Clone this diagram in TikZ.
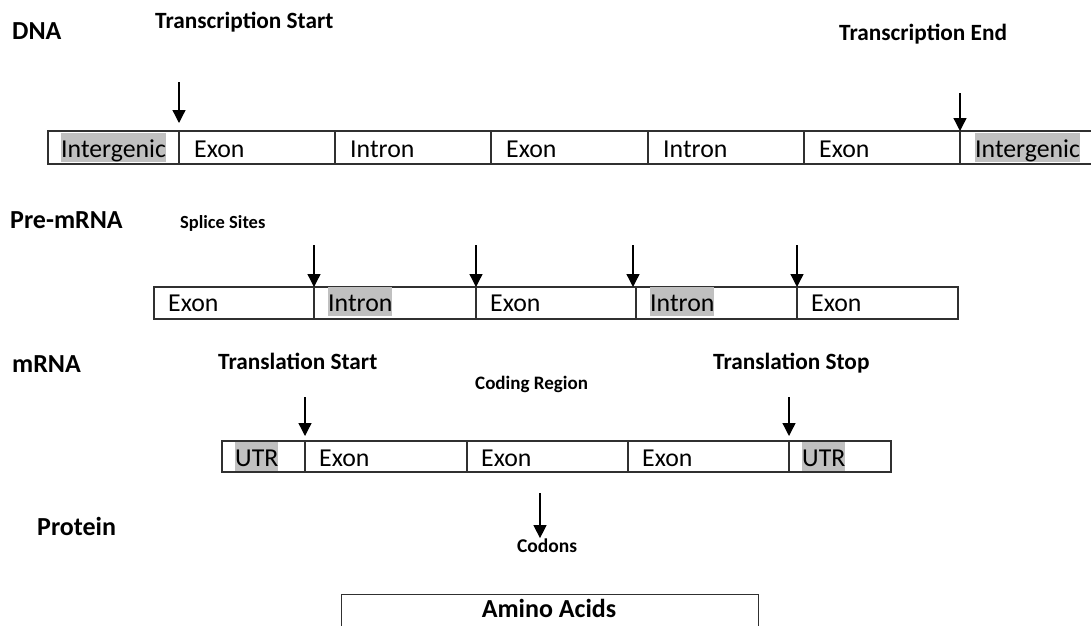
\documentclass[tikz,border=0pt]{standalone}
\usepackage{fontspec}
\setmainfont{Carlito}
\usetikzlibrary{arrows.meta}
\definecolor{hlgray}{HTML}{C0C0C0}
\definecolor{linec}{HTML}{303030}
\begin{document}
\begin{tikzpicture}[x=1pt,y=-1pt,
  cellbox/.style={draw=linec,line width=1.2pt,anchor=north west,inner sep=0pt,outer sep=0pt,minimum height=#1},
  ctext/.style={anchor=base west,inner sep=0pt,font=\fontsize{25.8}{30}\selectfont,text height=24pt,text depth=4.5pt},
  hltext/.style={ctext,fill=hlgray},
  biglbl/.style={anchor=base west,inner sep=0pt,font=\fontsize{26}{30}\selectfont\bfseries},
  midlbl/.style={anchor=base west,inner sep=0pt,font=\fontsize{23.3}{28}\selectfont\bfseries},
  smalllbl/.style={anchor=base west,inner sep=0pt,font=\fontsize{18.5}{22}\selectfont\bfseries},
  arr/.style={-{Triangle[width=13pt,length=13pt]},line width=1.3pt,draw=black}]
\useasboundingbox (0,0) rectangle (1091,625);
\clip (0,0) rectangle (1091,625);

% ---------- DNA ----------
\node[biglbl] (lDNA) at (12,39) {DNA};
\node[midlbl] (lTS) at (155,28) {Transcription Start};
\node[midlbl] (lTE) at (839,40) {Transcription End};
\node[cellbox=33pt,minimum width=131pt] (d1) at (48,131) {};
\node[cellbox=33pt,minimum width=156pt] (d2) at (179,131) {};
\node[cellbox=33pt,minimum width=156pt] (d3) at (335,131) {};
\node[cellbox=33pt,minimum width=157pt] (d4) at (491,131) {};
\node[cellbox=33pt,minimum width=156pt] (d5) at (648,131) {};
\node[cellbox=33pt,minimum width=156pt] (d6) at (804,131) {};
\node[cellbox=33pt,minimum width=140pt] (d7) at (960,131) {};
\node[hltext] (t1) at (61,157) {Intergenic};
\node[ctext] (t2) at (194,157) {Exon};
\node[ctext] (t3) at (350,157) {Intron};
\node[ctext] (t4) at (506,157) {Exon};
\node[ctext] (t5) at (663,157) {Intron};
\node[ctext] (t6) at (819,157) {Exon};
\node[hltext] (t7) at (975,157) {Intergenic};
\coordinate (aTS) at (179,82);
\coordinate (aTE) at (960,93);
\draw[arr,shorten >=8pt] (aTS) -- (aTS |- d1.north);
\draw[arr] (aTE) -- (aTE |- d6.north);

% ---------- Pre-mRNA ----------
\node[biglbl] (lPre) at (10,228) {Pre-mRNA};
\node[smalllbl] (lSS) at (180,228) {Splice Sites};
\node[cellbox=32pt,minimum width=160pt] (p1) at (154,287) {};
\node[cellbox=32pt,minimum width=162pt] (p2) at (314,287) {};
\node[cellbox=32pt,minimum width=160pt] (p3) at (476,287) {};
\node[cellbox=32pt,minimum width=161pt] (p4) at (636,287) {};
\node[cellbox=32pt,minimum width=161pt] (p5) at (797,287) {};
\node[ctext] (u1) at (168,311) {Exon};
\node[hltext] (u2) at (328,311) {Intron};
\node[ctext] (u3) at (490,311) {Exon};
\node[hltext] (u4) at (650,311) {Intron};
\node[ctext] (u5) at (811,311) {Exon};
\coordinate (s1) at (314,245);
\coordinate (s2) at (476,245);
\coordinate (s3) at (633,245);
\coordinate (s4) at (797,245);
\draw[arr] (s1) -- (s1 |- p1.north);
\draw[arr] (s2) -- (s2 |- p2.north);
\draw[arr] (s3) -- (s3 |- p3.north);
\draw[arr] (s4) -- (s4 |- p4.north);

% ---------- mRNA ----------
\node[biglbl] (lm) at (12,372) {mRNA};
\node[midlbl] (lTlS) at (218,369) {Translation Start};
\node[smalllbl,font=\fontsize{19}{22}\selectfont\bfseries] (lCR) at (475,389) {Coding Region};
\node[midlbl] (lTlE) at (713,369) {Translation Stop};
\node[cellbox=31pt,minimum width=83pt] (m1) at (222,441) {};
\node[cellbox=31pt,minimum width=162pt] (m2) at (305,441) {};
\node[cellbox=31pt,minimum width=161pt] (m3) at (467,441) {};
\node[cellbox=31pt,minimum width=161pt] (m4) at (628,441) {};
\node[cellbox=31pt,minimum width=102pt] (m5) at (789,441) {};
\node[hltext] (v1) at (235,466) {UTR};
\node[ctext] (v2) at (319,466) {Exon};
\node[ctext] (v3) at (481,466) {Exon};
\node[ctext] (v4) at (642,466) {Exon};
\node[hltext] (v5) at (802,466) {UTR};
\coordinate (b1) at (305,397);
\coordinate (b2) at (789,397);
\draw[arr,shorten >=5pt] (b1) -- (b1 |- m1.north);
\draw[arr,shorten >=5pt] (b2) -- (b2 |- m4.north);

% ---------- Protein ----------
\node[biglbl] (lP) at (37,535) {Protein};
\coordinate (c1) at (540,493);
\node[smalllbl,anchor=base,font=\fontsize{19.5}{22}\selectfont\bfseries] (lCod) at (547,552) {Codons};
\draw[arr] (c1) -- (c1 |- lCod.north);
\node[draw=linec,line width=1.2pt,anchor=north west,inner sep=0pt,minimum width=417pt,minimum height=60pt] (aa) at (341,594) {};
\node[anchor=base,inner sep=0pt,font=\fontsize{26}{30}\selectfont\bfseries] (laa) at (549,617) {Amino Acids};
\end{tikzpicture}
\end{document}
